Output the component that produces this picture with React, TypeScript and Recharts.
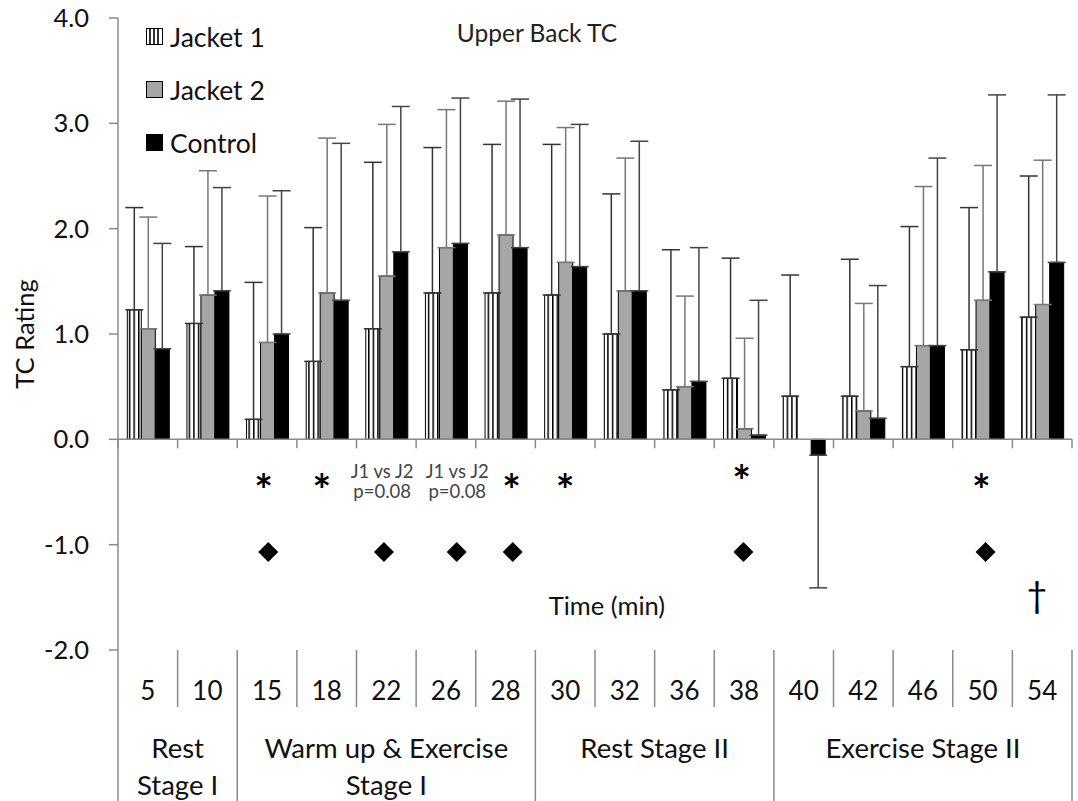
import {
  ComposedChart,
  Bar,
  ErrorBar,
  XAxis,
  YAxis,
  ReferenceLine,
  Scatter,
  Label,
} from "recharts";

// time points (min) and mean TC ratings per garment
const TIMES = ["5", "10", "15", "18", "22", "26", "28", "30", "32", "36", "38", "40", "42", "46", "50", "54"];
const JACKET1 = [1.23, 1.1, 0.19, 0.74, 1.05, 1.39, 1.39, 1.37, 1.0, 0.47, 0.58, 0.41, 0.41, 0.69, 0.85, 1.16];
const JACKET2 = [1.05, 1.37, 0.92, 1.39, 1.55, 1.82, 1.94, 1.68, 1.41, 0.5, 0.1, 0.0, 0.27, 0.89, 1.32, 1.28];
const CONTROL = [0.86, 1.41, 1.0, 1.32, 1.78, 1.86, 1.82, 1.64, 1.41, 0.55, 0.04, -0.15, 0.2, 0.89, 1.59, 1.68];

// standard deviations (drawn away from zero only)
const JACKET1_SD = [0.97, 0.73, 1.3, 1.27, 1.58, 1.38, 1.41, 1.43, 1.33, 1.33, 1.14, 1.15, 1.3, 1.33, 1.35, 1.34];
const JACKET2_SD = [1.06, 1.18, 1.39, 1.47, 1.44, 1.31, 1.27, 1.28, 1.26, 0.86, 0.86, 1.19, 1.02, 1.51, 1.28, 1.37];
const CONTROL_SD = [1.0, 0.98, 1.36, 1.49, 1.38, 1.38, 1.41, 1.35, 1.42, 1.27, 1.28, 1.26, 1.26, 1.78, 1.68, 1.59];

const STAGE_LABELS = [["Rest", "Stage I"], ["Warm up & Exercise", "Stage I"], ["Rest Stage II"], ["Exercise Stage II"]];
const STAGE_SPANS = [2, 5, 4, 5];

const Y_TICKS = [-2, -1, 0, 1, 2, 3, 4];

// significance markers, positioned on a 0..16 time-slot scale
const STAR_X = [2.44, 3.42, 6.6, 7.5, 10.46, 14.48];
const STAR_Y = [-0.4, -0.4, -0.4, -0.4, -0.31, -0.4];
const DIAMOND_X = [2.52, 4.46, 5.68, 6.62, 10.49, 14.55];
const DIAMOND_Y = [-1.07, -1.07, -1.07, -1.07, -1.07, -1.07];
const NOTE_TEXT = ["J1 vs J2\np=0.08", "J1 vs J2\np=0.08"];
const NOTE_X = [4.43, 5.69];
const NOTE_Y = [-0.4, -0.4];
const DAGGER_X = [15.41];
const DAGGER_Y = [-1.5];

const W = 1078;
const H = 801;
const MARGIN = { top: 18, right: 6, bottom: 0, left: 0 };
const Y_AXIS_W = 118;
const X_AXIS_H = 151;
const BAND = (W - MARGIN.left - MARGIN.right - Y_AXIS_W) / TIMES.length;
const FONT = "Lato, 'Open Sans', sans-serif";
const GRID = "#8a8a8a";

const SERIES = [
  { key: "j1", name: "Jacket 1", fill: "url(#j1Stripes)", err: "#333333" },
  { key: "j2", name: "Jacket 2", fill: "#a6a6a6", err: "#777777" },
  { key: "ctl", name: "Control", fill: "#000000", err: "#444444" },
];

const dirErr = (v: number, sd: number) => (v >= 0 ? [0, sd] : [sd, 0]);

const data = TIMES.map((t, i) => ({
  time: t,
  j1: JACKET1[i],
  j2: JACKET2[i],
  ctl: CONTROL[i],
  j1Err: dirErr(JACKET1[i], JACKET1_SD[i]),
  j2Err: dirErr(JACKET2[i], JACKET2_SD[i]),
  ctlErr: dirErr(CONTROL[i], CONTROL_SD[i]),
}));

const stars = STAR_X.map((x, i) => ({ x, y: STAR_Y[i] }));
const diamonds = DIAMOND_X.map((x, i) => ({ x, y: DIAMOND_Y[i] }));
const notes = NOTE_X.map((x, i) => ({ x, y: NOTE_Y[i], text: NOTE_TEXT[i] }));
const daggers = DAGGER_X.map((x, i) => ({ x, y: DAGGER_Y[i] }));
const timeTitle = [{ x: 8.2, y: -1.57 }];

const stageStarts: number[] = [];
STAGE_SPANS.reduce((acc, s) => {
  stageStarts.push(acc);
  return acc + s;
}, 0);
const stageEnds = stageStarts.map((s, i) => s + STAGE_SPANS[i]);

// time / stage table under the plot, drawn from the category axis ticks
function TableTick(props: any) {
  const { x, y, payload } = props;
  const i: number = payload.index ?? props.index;
  const left = x - BAND / 2;
  const right = x + BAND / 2;
  const full = X_AXIS_H;
  const isEnd = stageEnds.includes(i + 1);
  const stage = stageStarts.indexOf(i);
  return (
    <g>
      {i === 0 && <line x1={left} x2={left} y1={y} y2={y + full} stroke={GRID} strokeWidth={1.5} />}
      <line x1={right} x2={right} y1={y} y2={y + (isEnd ? full : 57)} stroke={GRID} strokeWidth={1.5} />
      <text x={x} y={y + 40} textAnchor="middle" dominantBaseline="central" fontSize={26} fontFamily={FONT} fill="#111">
        {payload.value}
      </text>
      {stage >= 0 &&
        STAGE_LABELS[stage].map((line, k) => (
          <text
            key={k}
            x={left + (STAGE_SPANS[stage] * BAND) / 2}
            y={y + 97 + k * 37}
            textAnchor="middle"
            dominantBaseline="central"
            fontSize={27.5}
            fontFamily={FONT}
            fill="#111"
          >
            {line}
          </text>
        ))}
    </g>
  );
}

const StarShape = (p: any) => (
  <text x={p.cx} y={p.cy + 25} textAnchor="middle" fontSize={44} fontWeight={700} fontFamily={FONT} fill="#000">
    *
  </text>
);

const DiamondShape = (p: any) => (
  <polygon
    points={`${p.cx},${p.cy - 10} ${p.cx + 10},${p.cy} ${p.cx},${p.cy + 10} ${p.cx - 10},${p.cy}`}
    fill="#000"
  />
);

const NoteShape = (p: any) => (
  <g>
    {String(p.payload.text)
      .split("\n")
      .map((line: string, k: number) => (
        <text
          key={k}
          x={p.cx}
          y={p.cy - 10 + k * 20}
          textAnchor="middle"
          dominantBaseline="central"
          fontSize={18.5}
          fontFamily={FONT}
          fill="#444"
        >
          {line}
        </text>
      ))}
  </g>
);

const DaggerShape = (p: any) => (
  <text x={p.cx} y={p.cy + 11} textAnchor="middle" fontSize={36} fontFamily={FONT} fill="#000">
    {"\u2020"}
  </text>
);

const TimeTitleShape = (p: any) => (
  <text x={p.cx} y={p.cy} textAnchor="middle" dominantBaseline="central" fontSize={25.5} fontFamily={FONT} fill="#111">
    Time (min)
  </text>
);

function LegendIcon({ k }: { k: string }) {
  return (
    <svg width={17} height={17}>
      {k === "j1" ? (
        <g>
          <rect x={0.5} y={0.5} width={16} height={16} fill="#fff" stroke="#000" />
          {[4, 8, 12].map((lx) => (
            <line key={lx} x1={lx} x2={lx} y1={0} y2={17} stroke="#000" strokeWidth={1.6} />
          ))}
        </g>
      ) : (
        <rect x={0.5} y={0.5} width={16} height={16} fill={k === "j2" ? "#a6a6a6" : "#000"} stroke="#000" />
      )}
    </svg>
  );
}

function LegendBox() {
  return (
    <div style={{ position: "absolute", left: 146, top: 10, fontFamily: FONT, fontSize: 26.5, color: "#111" }}>
      {SERIES.map((s) => (
        <div key={s.key} style={{ display: "flex", alignItems: "center", height: 53 }}>
          <LegendIcon k={s.key} />
          <span style={{ marginLeft: 7 }}>{s.name}</span>
        </div>
      ))}
    </div>
  );
}

export default function App() {
  return (
    <div style={{ position: "relative", width: W, height: H, background: "#fff" }}>
      <style>{"body{margin:0}"}</style>
      <ComposedChart width={W} height={H} data={data} margin={MARGIN} barCategoryGap="15.6%" barGap={0}>
        <defs>
          <pattern id="j1Stripes" patternUnits="userSpaceOnUse" width={4.6} height={10}>
            <rect width={4.6} height={10} fill="#fff" />
            <rect x={0} width={1.5} height={10} fill="#000" />
          </pattern>
        </defs>
        <XAxis
          dataKey="time"
          interval={0}
          height={X_AXIS_H}
          axisLine={false}
          tickLine={false}
          tickSize={0}
          tickMargin={0}
          tick={<TableTick />}
        />
        <XAxis xAxisId="pos" type="number" dataKey="x" domain={[0, TIMES.length]} hide />
        <YAxis
          type="number"
          domain={[-2, 4]}
          ticks={Y_TICKS}
          interval={0}
          width={Y_AXIS_W}
          tickFormatter={(v: number) => v.toFixed(1)}
          axisLine={{ stroke: GRID, strokeWidth: 1.5 }}
          tickLine={{ stroke: GRID, strokeWidth: 1.5 }}
          tickSize={9}
          tickMargin={20}
          tick={{ fontSize: 25.5, fontFamily: FONT, fill: "#111" }}
        >
          <Label
            content={(p: any) => {
              const vb = p.viewBox;
              const cx = 24;
              const cy = vb.y + vb.height / 2;
              return (
                <text
                  x={cx}
                  y={cy}
                  transform={`rotate(-90 ${cx} ${cy})`}
                  textAnchor="middle"
                  dominantBaseline="central"
                  fontSize={25.5}
                  fontFamily={FONT}
                  fill="#111"
                >
                  TC Rating
                </text>
              );
            }}
          />
        </YAxis>
        {SERIES.map((s) => (
          <Bar
            key={s.key}
            dataKey={s.key}
            name={s.name}
            fill={s.fill}
            stroke="#000"
            strokeWidth={1}
            isAnimationActive={false}
          >
            <ErrorBar dataKey={`${s.key}Err`} width={9} stroke={s.err} strokeWidth={1.5} direction="y" />
          </Bar>
        ))}
        <ReferenceLine y={0} stroke={GRID} strokeWidth={1.5} />
        {Array.from({ length: TIMES.length + 1 }, (_, i) => (
          <ReferenceLine
            key={`tick-${i}`}
            xAxisId="pos"
            segment={[
              { x: i, y: 0 },
              { x: i, y: -0.085 },
            ]}
            stroke={GRID}
            strokeWidth={1.5}
          />
        ))}
        <Scatter xAxisId="pos" data={stars} dataKey="y" shape={StarShape} legendType="none" isAnimationActive={false} />
        <Scatter xAxisId="pos" data={diamonds} dataKey="y" shape={DiamondShape} legendType="none" isAnimationActive={false} />
        <Scatter xAxisId="pos" data={notes} dataKey="y" shape={NoteShape} legendType="none" isAnimationActive={false} />
        <Scatter xAxisId="pos" data={daggers} dataKey="y" shape={DaggerShape} legendType="none" isAnimationActive={false} />
        <Scatter xAxisId="pos" data={timeTitle} dataKey="y" shape={TimeTitleShape} legendType="none" isAnimationActive={false} />
      </ComposedChart>
      <LegendBox />
      <div
        style={{
          position: "absolute",
          left: 537,
          top: 19,
          transform: "translateX(-50%)",
          fontFamily: FONT,
          fontSize: 24.5,
          lineHeight: "28px",
          color: "#222",
          whiteSpace: "nowrap",
        }}
      >
        Upper Back TC
      </div>
    </div>
  );
}
